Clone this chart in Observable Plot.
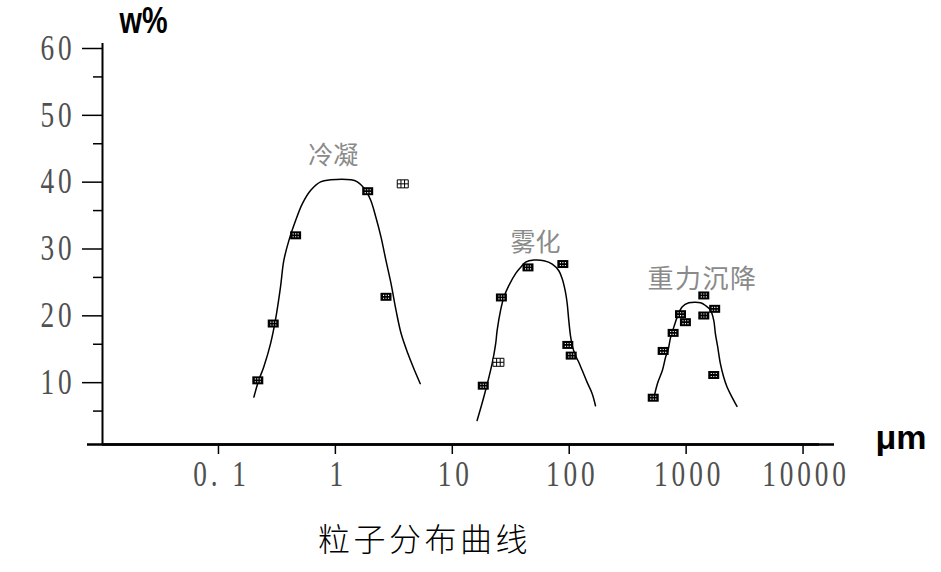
<!DOCTYPE html>
<html><head><meta charset="utf-8">
<script src="https://cdn.jsdelivr.net/npm/d3@7"></script>
<script src="https://cdn.jsdelivr.net/npm/@observablehq/plot@0.6"></script>
<style>body{margin:0;background:#fff}</style>
</head><body><div id="chart"></div>
<script>
// ---- axis ticks ----
const xTicks = [0.1, 1, 10, 100, 1000, 10000];
const xTickLabels = ["0. 1", "1", "10", "100", "1000", "10000"];
const yTicks = [10, 20, 30, 40, 50, 60];
const yMinorTicks = [5, 15, 25, 35, 45, 55];
const xDomain = [0.01019, 18578];
const yDomain = [0, 60];

// ---- fitted curves ----
const condenseCurveX = [0.201,0.221,0.244,0.279,0.307,0.339,0.362,0.4,0.457,0.521,0.613,0.747,0.91,1.36,1.54,1.82,2.01,2.22,2.46,2.71,2.99,3.30,3.65,4.17,4.75,5.32];
const condenseCurveY = [7.1,9.6,11.6,15.1,18.6,23.5,27.5,30.5,33.5,36.0,38.0,39.3,39.6,39.6,39.3,38.0,36.5,34.0,31.0,27.5,24.1,20.1,16.6,13.6,11.1,9.1];
const atomizeCurveX = [16.3,18.6,21.9,23.5,24.2,25.9,27.7,30.5,34.9,38.4,42.4,49.9,60.8,71.6,81.5,87.1,92.9,96.1,99.1,102.5,106.1,113.2,120.7,129.1,142.4,157.2,167.8];
const atomizeCurveY = [3.6,7.1,12.1,15.1,17.1,20.1,22.1,23.8,25.6,26.5,27.3,27.6,27.5,27.0,26.0,24.8,22.8,21.1,18.6,16.3,14.8,13.3,12.3,11.1,9.3,7.6,5.8];
const gravityCurveX = [532,568,627,668,700,738,786,840,927,1055,1203,1328,1463,1614,1722,1779,1862,1963,2094,2239,2467,2723];
const gravityCurveY = [7.1,9.1,11.1,13.1,14.1,16.1,17.6,19.1,20.6,21.2,21.3,21.2,20.8,20.1,18.6,16.6,14.6,12.1,10.1,8.6,7.1,5.7];

// ---- measured points ----
const condensePtX = [0.217,0.294,0.457,1.89,2.71,3.77];
const condensePtY = [9.6,18.1,31.3,37.9,22.1,39.0];
const condensePtHollow = [0,0,0,0,0,1];
const atomizePtX = [18.4,24.8,26.3,44.4,88.2,97.3,104.0];
const atomizePtY = [8.8,12.3,22.0,26.5,27.0,14.9,13.3];
const atomizePtHollow = [0,1,0,0,0,0,0];
const gravityPtX = [523,636,774,895,986,1416,1416,1755,1722];
const gravityPtY = [7.0,14.0,16.7,19.5,18.3,22.3,19.3,20.3,10.4];
const gravityPtHollow = [0,0,0,0,0,0,0,0,0];

// ---- labels ----
const regionLabels = ["冷凝", "雾化", "重力沉降"];
const regionLabelX = [0.96, 51.5, 1380];
const regionLabelY = [43.2, 30.1, 24.7];
const yTitle = "w%";
const xTitle = "μm";
const caption = "粒子分布曲线";

// ---- build tables ----
const curves = [
  ["condense", condenseCurveX, condenseCurveY],
  ["atomize", atomizeCurveX, atomizeCurveY],
  ["gravity", gravityCurveX, gravityCurveY]
].flatMap(([s, xs, ys]) => xs.map((x, i) => ({series: s, x, y: ys[i]})));
const points = [
  [condensePtX, condensePtY, condensePtHollow],
  [atomizePtX, atomizePtY, atomizePtHollow],
  [gravityPtX, gravityPtY, gravityPtHollow]
].flatMap(([xs, ys, hs]) => xs.map((x, i) => ({x, y: ys[i], hollow: !!hs[i]})));
const filled = points.filter(d => !d.hollow);
const hollow = points.filter(d => d.hollow);
const labels = regionLabels.map((t, i) => ({t, x: regionLabelX[i], y: regionLabelY[i]}));

const rectSym = {draw(ctx) { ctx.rect(-5.5, -4, 11, 8); }};
const holesSym = {draw(ctx) {
  for (const hy of [-2, 0.9]) for (const hx of [-3, -0.5, 2]) ctx.rect(hx, hy, 1.1, 1.1);
}};
const gridSym = {draw(ctx) {
  ctx.moveTo(-5.5, 0); ctx.lineTo(5.5, 0);
  ctx.moveTo(-1.8, -4); ctx.lineTo(-1.8, 4);
  ctx.moveTo(1.8, -4); ctx.lineTo(1.8, 4);
}};

const serif = "Liberation Serif";
const cjk = "Noto Sans CJK SC";

const chart = Plot.plot({
  width: 941, height: 572,
  marginLeft: 102, marginRight: 107, marginTop: 43, marginBottom: 128,
  style: {fontFamily: serif, background: "white", overflow: "visible"},
  x: {type: "log", domain: xDomain},
  y: {domain: yDomain},
  marks: [
    Plot.axisY({ticks: yMinorTicks, tickSize: 9, tickFormat: () => "", label: null, strokeWidth: 1.5}),
    Plot.axisY({ticks: yTicks, tickSize: 20, tickPadding: 10, tickFormat: d => String(d), label: null,
      fontSize: 35, fontFamily: serif, fill: "#505050", dy: 5, strokeWidth: 1.5}),
    Plot.axisX({ticks: xTicks, tickSize: 10, tickPadding: 7, tickFormat: d => xTickLabels[xTicks.indexOf(d)], label: null,
      fontSize: 35, fontFamily: serif, fill: "#505050", strokeWidth: 1.5}),
    Plot.ruleX([xDomain[0]], {y1: yDomain[0], y2: yDomain[1], strokeWidth: 2}),
    Plot.ruleY([0], {strokeWidth: 2.5}),
    Plot.ruleY([0], {strokeWidth: 2.5, dx: -15}),
    Plot.line(curves, {x: "x", y: "y", z: "series", curve: "catmull-rom", stroke: "black", strokeWidth: 1.5}),
    Plot.dot(filled, {x: "x", y: "y", symbol: rectSym, r: 5, fill: "black"}),
    Plot.dot(filled, {x: "x", y: "y", symbol: holesSym, r: 5, fill: "white"}),
    Plot.dot(hollow, {x: "x", y: "y", symbol: rectSym, r: 5, fill: "white", stroke: "black", strokeWidth: 1}),
    Plot.dot(hollow, {x: "x", y: "y", symbol: gridSym, r: 5, fill: "none", stroke: "black", strokeWidth: 1}),
    Plot.text(labels, {x: "x", y: "y", text: "t", fontSize: 25, fontFamily: cjk, fill: "#8a8a8a", lineAnchor: "middle"}),
    Plot.text([yTitle], {frameAnchor: "top-left", text: d => d, dx: 17, dy: -11, lineAnchor: "bottom", textAnchor: "start",
      fontSize: 36, fontWeight: "bold", fontFamily: "Liberation Sans", fill: "black"}),
    Plot.text([xTitle], {frameAnchor: "bottom-right", text: d => d, dx: 41, dy: 4, lineAnchor: "bottom", textAnchor: "start",
      fontSize: 34, fontWeight: "bold", fontFamily: "Liberation Sans", fill: "black"}),
    Plot.text([caption], {frameAnchor: "bottom", text: d => d, dx: -44, dy: 96, lineAnchor: "middle",
      fontSize: 32, fontFamily: cjk, fill: "black"})
  ]
});
document.getElementById("chart").appendChild(chart);
// fine text adjustments
const tickTexts = new Set([...xTickLabels, ...yTicks.map(String)]);
chart.querySelectorAll("text").forEach(t => {
  const s = t.textContent;
  if (s === yTitle) { t.setAttribute("textLength", 48); t.setAttribute("lengthAdjust", "spacingAndGlyphs"); }
  if (s === caption) { t.style.letterSpacing = "3.5px"; t.style.fontWeight = "300"; }
  if (s === "重力沉降") { t.style.letterSpacing = "1.5px"; t.setAttribute("font-size", 26); }
  if (tickTexts.has(s)) {
    const tr = t.getAttribute("transform");
    if (tr && tr.includes("translate")) {
      t.setAttribute("transform", "translate(3,0) " + tr + " scale(0.78,1)");
      t.style.letterSpacing = "5px";
    }
  }
});
</script>
</body></html>
